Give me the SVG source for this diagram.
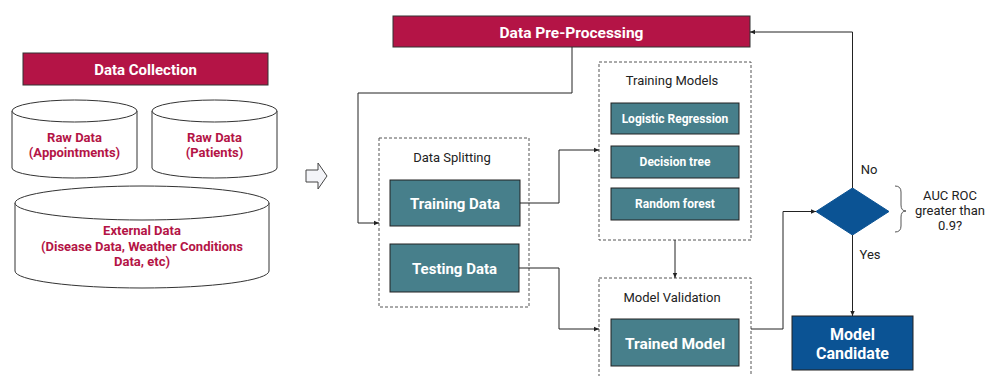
<svg xmlns="http://www.w3.org/2000/svg" width="986" height="376" viewBox="0 0 986 376">
<defs>
<marker id="ah" markerWidth="6" markerHeight="6" refX="5" refY="3" orient="auto" markerUnits="userSpaceOnUse">
<path d="M0,0.8 L5,3 L0,5.2 Z" fill="#222"/>
</marker>
<style>
.crim{fill:#B41446;stroke:#333;stroke-width:1}
.teal{fill:#477F8B;stroke:#222;stroke-width:1}
.blue{fill:#0B5394;stroke:#222;stroke-width:1}
.cyl{fill:#fff;stroke:#333;stroke-width:1}
.dash{fill:none;stroke:#555;stroke-width:1;stroke-dasharray:3,2}
.wt{font-family:Roboto,"Liberation Sans",sans-serif;font-weight:bold;fill:#fff;text-anchor:middle}
.ct{font-family:Roboto,"Liberation Sans",sans-serif;font-weight:bold;fill:#B41446;text-anchor:middle;font-size:13px}
.bt{font-family:Roboto,"Liberation Sans",sans-serif;fill:#222;text-anchor:middle;font-size:13px}
.conn{fill:none;stroke:#222;stroke-width:1;marker-end:url(#ah)}
</style>
</defs>
<rect width="986" height="376" fill="#fff"/>

<g id="data-collection">
<rect class="crim" x="23" y="53" width="245" height="32"/>
<text class="wt" x="145.5" y="75" font-size="15">Data Collection</text>
</g>

<g id="raw-appointments">
<path class="cyl" d="M12,111 A62.5,11 0 0 1 137,111 L137,168 A62.5,10 0 0 1 12,168 Z"/>
<path class="cyl" d="M12,111 A62.5,11 0 0 0 137,111" fill="none"/>
<text class="ct" x="74.5" y="142">Raw Data</text>
<text class="ct" x="74.5" y="157">(Appointments)</text>
</g>

<g id="raw-patients">
<path class="cyl" d="M152,111 A62.5,11 0 0 1 277,111 L277,168 A62.5,10 0 0 1 152,168 Z"/>
<path class="cyl" d="M152,111 A62.5,11 0 0 0 277,111" fill="none"/>
<text class="ct" x="214.5" y="142">Raw Data</text>
<text class="ct" x="214.5" y="157">(Patients)</text>
</g>

<g id="external-data">
<path class="cyl" d="M15,203 A127,17 0 0 1 269,203 L269,271 A127,17 0 0 1 15,271 Z"/>
<path class="cyl" d="M15,203 A127,17 0 0 0 269,203" fill="none"/>
<text class="ct" x="142" y="235">External Data</text>
<text class="ct" x="142" y="251">(Disease Data, Weather Conditions</text>
<text class="ct" x="142" y="266">Data, etc)</text>
</g>

<g id="block-arrow">
<path d="M306,170 L318,170 L318,163 L327,176 L318,189 L318,182 L306,182 Z" fill="#F3F4F8" stroke="#444" stroke-width="1"/>
</g>

<g id="data-preprocessing">
<rect class="crim" x="393" y="16" width="357" height="31"/>
<text class="wt" x="571.5" y="37.5" font-size="15.5">Data Pre-Processing</text>
</g>

<g id="data-splitting">
<rect class="dash" x="379" y="138" width="150" height="169"/>
<text class="bt" x="452" y="162">Data Splitting</text>
</g>
<g id="training-data">
<rect class="teal" x="390" y="180" width="130" height="46"/>
<text class="wt" x="455" y="208.5" font-size="15">Training Data</text>
</g>
<g id="testing-data">
<rect class="teal" x="390" y="244" width="129" height="48"/>
<text class="wt" x="454.5" y="273.5" font-size="15">Testing Data</text>
</g>

<g id="training-models">
<rect class="dash" x="599" y="62" width="152" height="178"/>
<text class="bt" x="672" y="85">Training Models</text>
</g>
<g id="logistic-regression">
<rect class="teal" x="611" y="103" width="128" height="31"/>
<text class="wt" x="675" y="123" font-size="12">Logistic Regression</text>
</g>
<g id="decision-tree">
<rect class="teal" x="611" y="146" width="128" height="32"/>
<text class="wt" x="675" y="166" font-size="12">Decision tree</text>
</g>
<g id="random-forest">
<rect class="teal" x="611" y="188" width="128" height="32"/>
<text class="wt" x="675" y="208" font-size="12">Random forest</text>
</g>

<g id="model-validation">
<rect class="dash" x="599" y="278" width="152" height="110"/>
<text class="bt" x="672" y="302">Model Validation</text>
</g>
<g id="trained-model">
<rect class="teal" x="611" y="319" width="128" height="47"/>
<text class="wt" x="675" y="348.5" font-size="15.5">Trained Model</text>
</g>

<g id="decision">
<path d="M816,211.5 L852.5,188 L889,211.5 L852.5,235 Z" fill="#0B5394" stroke="#0B5394" stroke-width="1"/>
</g>
<g id="auc-note">
<path d="M895,186 Q901,186 901,192 L901,205 Q901,211 906,211 Q901,211 901,217 L901,226 Q901,232 895,232" fill="none" stroke="#555" stroke-width="1"/>
<text class="bt" x="950" y="200">AUC ROC</text>
<text class="bt" x="950" y="215">greater than</text>
<text class="bt" x="950" y="230">0.9?</text>
</g>

<g id="model-candidate">
<rect class="blue" x="792" y="316" width="121" height="54"/>
<text class="wt" x="852.5" y="339.5" font-size="16">Model</text>
<text class="wt" x="852.5" y="358.5" font-size="16">Candidate</text>
</g>

<g id="connectors">
<path class="conn" d="M572,47 L572,93 L358,93 L358,223 L379,223"/>
<path class="conn" d="M520,203 L559,203 L559,150 L599,150"/>
<path class="conn" d="M519,268 L559,268 L559,329 L599,329"/>
<path class="conn" d="M675,240 L675,278"/>
<path class="conn" d="M751,329 L783,329 L783,211.5 L816,211.5"/>
<path class="conn" d="M852.5,188 L852.5,32 L750,32"/>
<path class="conn" d="M852.5,235 L852.5,316"/>
<text class="bt" x="869" y="174">No</text>
<text class="bt" x="870" y="259">Yes</text>
</g>
</svg>
